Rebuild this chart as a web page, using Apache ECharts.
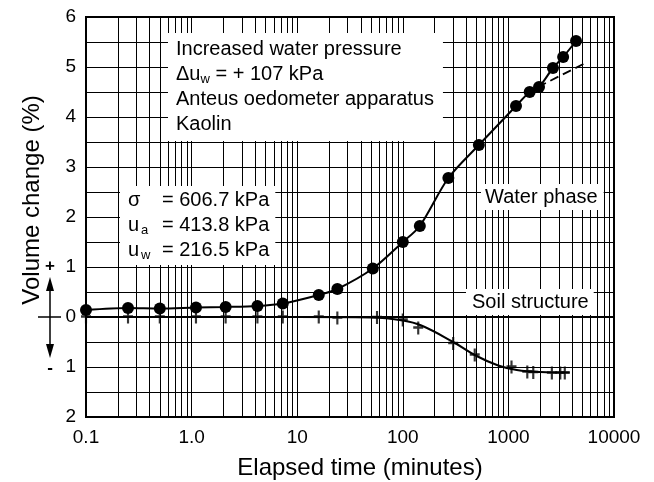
<!DOCTYPE html>
<html>
<head>
<meta charset="utf-8">
<script src="https://cdn.jsdelivr.net/npm/echarts@6/dist/echarts.min.js"></script>
<style>
  html, body { margin: 0; padding: 0; background: #fff; }
  #chart { width: 654px; height: 482px; }
</style>
</head>
<body>
<div id="chart"></div>
<script>
// elapsed time (minutes) vs volume change (%), below zero = compression
var waterTime = [0.1, 0.25, 0.5, 1.1, 2.1, 4.2, 7.3, 16, 24, 52, 100, 145, 270, 525, 1180, 1590, 1950, 2640, 3300, 4370];
var waterVol = [0.14, 0.18, 0.17, 0.19, 0.2, 0.22, 0.27, 0.44, 0.56, 0.97, 1.5, 1.82, 2.78, 3.44, 4.22, 4.5, 4.6, 4.98, 5.2, 5.52];

var waterTrendTime = [1900, 5600];
var waterTrendVol = [4.6, 5.1];

var soilTime = [0.1, 0.25, 0.5, 1.1, 2.1, 4.2, 7.3, 16, 24, 57, 100, 140, 300, 480, 1070, 1510, 1720, 2580, 3100, 3420];
var soilVol = [0, 0, 0, 0, 0, 0, 0, 0, -0.02, -0.01, -0.06, -0.22, -0.53, -0.76, -1.0, -1.1, -1.11, -1.12, -1.12, -1.12];

var soilCurveTime = [0.1, 10, 50, 100, 150, 300, 500, 800, 1200, 2000, 3800];
var soilCurveVol = [0, 0, -0.01, -0.07, -0.17, -0.5, -0.78, -0.97, -1.06, -1.1, -1.11];

var xTickLabels = ['0.1', '1.0', '10', '100', '1000', '10000'];
var yTickLabels = ['2', '1', '0', '1', '2', '3', '4', '5', '6']; // for -2 .. 6

// log paper minor lines (2..9 in each decade)
var minorTicks = [];
for (var d = -1; d < 4; d++) {
  for (var k = 2; k <= 9; k++) {
    minorTicks.push(k * Math.pow(10, d));
  }
}

function pairs(xs, ys) {
  return xs.map(function (x, i) { return [x, ys[i]]; });
}

var font = '"Liberation Sans", Arial, sans-serif';
var plus = 'path://M4,0H6.2V4.4H10.2V6.6H6.2V12H4V6.6H0V4.4H4Z';

var boxText = {
  t: { fontSize: 20, fontFamily: font, fill: '#000', lineHeight: 25 },
  s: { fontSize: 13, fontFamily: font, fill: '#000', padding: [9, 0, 0, 0] },
  sym: { fontSize: 20, fontFamily: font, fill: '#000', width: 34, lineHeight: 25 },
  u: { fontSize: 20, fontFamily: font, fill: '#000', width: 13, lineHeight: 25 },
  us: { fontSize: 13, fontFamily: font, fill: '#000', width: 21, padding: [9, 0, 0, 0] }
};

var option = {
  animation: false,
  backgroundColor: '#fff',
  grid: {
    left: 86,
    right: 40,
    top: 17,
    bottom: 65,
    show: true,
    borderColor: '#000',
    borderWidth: 2
  },
  xAxis: {
    type: 'log',
    logBase: 10,
    min: 0.1,
    max: 10000,
    axisLine: { show: true, lineStyle: { color: '#000', width: 2 } },
    axisTick: { show: false },
    splitLine: { show: true, lineStyle: { color: '#000', width: 1 } },
    axisLabel: {
      color: '#000',
      fontSize: 19,
      fontFamily: font,
      margin: 11,
      formatter: function (v) {
        return xTickLabels[Math.round(Math.log10(v)) + 1];
      }
    }
  },
  yAxis: {
    type: 'value',
    min: -2,
    max: 6,
    interval: 0.5,
    axisLine: { show: true, lineStyle: { color: '#000', width: 2 } },
    axisTick: { show: false },
    splitLine: { show: true, lineStyle: { color: '#000', width: 1 } },
    axisLabel: {
      color: '#000',
      fontSize: 19,
      fontFamily: font,
      margin: 10,
      formatter: function (v) {
        if (Math.abs(v - Math.round(v)) > 1e-6) return '';
        return yTickLabels[Math.round(v) + 2];
      }
    }
  },
  series: [
    {
      name: 'minor grid',
      type: 'line',
      data: [],
      z: 1,
      silent: true,
      markLine: {
        silent: true,
        symbol: ['none', 'none'],
        label: { show: false },
        lineStyle: { color: '#000', width: 1, type: 'solid' },
        data: minorTicks.map(function (v) { return { xAxis: v }; })
      }
    },
    {
      name: 'Water phase',
      type: 'line',
      data: pairs(waterTime, waterVol),
      smooth: 0.3,
      symbol: 'circle',
      symbolSize: 12,
      itemStyle: { color: '#000' },
      lineStyle: { color: '#000', width: 2 },
      z: 5
    },
    {
      name: 'trend',
      type: 'line',
      data: pairs(waterTrendTime, waterTrendVol),
      symbol: 'none',
      lineStyle: { color: '#000', width: 1.8, type: [9, 5] },
      z: 4
    },
    {
      name: 'Soil structure curve',
      type: 'line',
      data: pairs(soilCurveTime, soilCurveVol),
      smooth: 0.4,
      symbol: 'none',
      lineStyle: { color: '#000', width: 2 },
      z: 4
    },
    {
      name: 'Soil structure',
      type: 'scatter',
      data: pairs(soilTime, soilVol),
      symbol: plus,
      symbolSize: [10, 13],
      itemStyle: { color: '#000' },
      z: 5
    }
  ],
  graphic: [
    {
      type: 'text', x: 168, y: 33, z: 100,
      style: {
        text: '{t|Increased water pressure}\n{t|\u0394u}{s|w}{t| = + 107 kPa}\n{t|Anteus oedometer apparatus}\n{t|Kaolin}',
        rich: boxText,
        backgroundColor: '#fff',
        padding: [4, 9, 4, 8]
      }
    },
    {
      type: 'text', x: 120, y: 186, z: 100,
      style: {
        text: '{sym|\u03c3}{t|= 606.7 kPa}\n{u|u}{us|a}{t|= 413.8 kPa}\n{u|u}{us|w}{t|= 216.5 kPa}',
        rich: boxText,
        backgroundColor: '#fff',
        padding: [2, 6, 2, 8]
      }
    },
    {
      type: 'text', x: 481, y: 184, z: 100,
      style: {
        text: 'Water phase',
        fontSize: 20, fontFamily: font, fill: '#000',
        backgroundColor: '#fff',
        padding: [3, 6, 3, 4]
      }
    },
    {
      type: 'text', x: 466, y: 289, z: 100,
      style: {
        text: 'Soil structure',
        fontSize: 20, fontFamily: font, fill: '#000',
        backgroundColor: '#fff',
        padding: [3, 5, 3, 6]
      }
    },
    {
      type: 'text', x: 32, y: 200, rotation: Math.PI / 2, z: 100,
      style: {
        text: 'Volume change (%)',
        fontSize: 24, fontFamily: font, fill: '#000',
        align: 'center', verticalAlign: 'middle'
      }
    },
    {
      type: 'text', x: 360, y: 468, z: 100,
      style: {
        text: 'Elapsed time (minutes)',
        fontSize: 24, fontFamily: font, fill: '#000',
        align: 'center', verticalAlign: 'middle'
      }
    },
    // sign indicator next to the zero line
    {
      type: 'line', z: 100,
      shape: { x1: 50, y1: 286, x2: 50, y2: 350 },
      style: { stroke: '#000', lineWidth: 1.5 }
    },
    {
      type: 'line', z: 100,
      shape: { x1: 38, y1: 317, x2: 61, y2: 317 },
      style: { stroke: '#000', lineWidth: 1.5 }
    },
    {
      type: 'polygon', z: 100,
      shape: { points: [[50, 277], [46, 291], [54, 291]] },
      style: { fill: '#000' }
    },
    {
      type: 'polygon', z: 100,
      shape: { points: [[50, 358], [46, 344], [54, 344]] },
      style: { fill: '#000' }
    },
    {
      type: 'text', x: 50, y: 266, z: 100,
      style: { text: '+', fontSize: 17, fontWeight: 'bold', fontFamily: font, fill: '#000', align: 'center', verticalAlign: 'middle' }
    },
    {
      type: 'text', x: 50, y: 368, z: 100,
      style: { text: '-', fontSize: 17, fontWeight: 'bold', fontFamily: font, fill: '#000', align: 'center', verticalAlign: 'middle' }
    }
  ]
};

var myChart = echarts.init(document.getElementById('chart'), null, { renderer: 'canvas' });
myChart.setOption(option);
</script>
</body>
</html>
